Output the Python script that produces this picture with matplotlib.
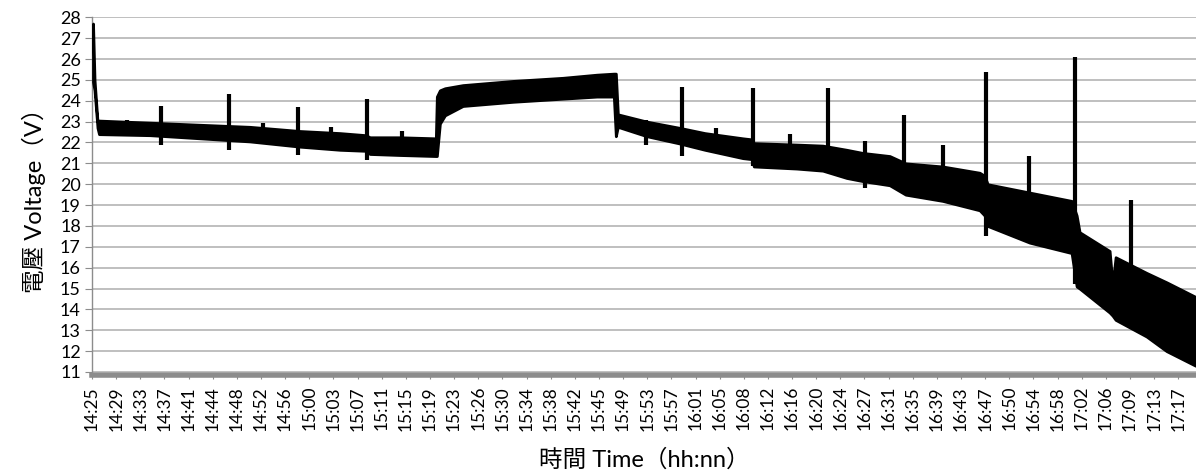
import numpy as np
import matplotlib
matplotlib.use("Agg")
import matplotlib.pyplot as plt

# time axis: minutes after 14:25
tick_labels = ["14:25", "14:29", "14:33", "14:37", "14:41", "14:44", "14:48", "14:52",
               "14:56", "15:00", "15:03", "15:07", "15:11", "15:15", "15:19", "15:23",
               "15:26", "15:30", "15:34", "15:38", "15:42", "15:45", "15:49", "15:53",
               "15:57", "16:01", "16:05", "16:08", "16:12", "16:16", "16:20", "16:24",
               "16:27", "16:31", "16:35", "16:39", "16:43", "16:47", "16:50", "16:54",
               "16:58", "17:02", "17:06", "17:09", "17:13", "17:17"]
last_tick_min = 172.0

# envelope of the noisy voltage trace (upper / lower edge)
env_t = [0.16, 0.40, 0.87, 1.11, 9.18, 17.09, 25.01, 32.92, 39.25, 43.37, 44.0,
         48.75, 54.44, 54.60, 55.08, 55.88, 58.72, 66.64, 74.55, 79.93, 82.62,
         82.94, 83.26, 87.85, 93.07, 97.03, 103.04, 104.47, 104.79, 111.58,
         115.70, 119.49, 122.02, 126.30, 128.83, 134.69, 140.54, 141.33, 141.81,
         148.46, 155.10, 155.90, 156.37, 161.12, 161.59, 162.07, 166.97, 170.14,
         174.73]
env_hi = [27.7, 25.0, 23.0, 23.05, 22.95, 22.85, 22.75, 22.55, 22.45, 22.35, 22.25,
          22.25, 22.2, 24.2, 24.5, 24.6, 24.75, 24.95, 25.1, 25.25, 25.3,
          25.3, 23.35, 23.0, 22.7, 22.45, 22.2, 22.15, 21.97, 21.9,
          21.85, 21.65, 21.5, 21.35, 21.0, 20.85, 20.55, 20.4, 20.0,
          19.6, 19.2, 18.5, 17.7, 16.8, 15.2, 16.5, 15.75, 15.3,
          14.6]
env_lo = [24.9, 24.5, 22.7, 22.4, 22.35, 22.2, 22.05, 21.8, 21.65, 21.6, 21.45,
          21.4, 21.35, 21.35, 22.9, 23.3, 23.75, 23.95, 24.1, 24.2, 24.2,
          22.3, 22.75, 22.3, 21.95, 21.65, 21.25, 21.2, 20.85, 20.75,
          20.65, 20.3, 20.15, 19.95, 19.5, 19.2, 18.75, 18.5, 18.0,
          17.2, 16.7, 15.1, 15.0, 13.85, 13.7, 13.5, 12.7, 12.0,
          11.3]

# short spikes (time, top, bottom)
spike_t = [5.48, 10.92, 21.64, 27.06, 32.65, 37.83, 43.48, 49.02, 87.79, 93.49,
           98.87, 104.66, 110.47, 116.53, 122.45, 128.56, 134.74, 141.49, 148.35,
           155.69, 164.55]
spike_top = [23.1, 23.75, 24.33, 22.95, 23.7, 22.75, 24.08, 22.53, 23.07, 24.65,
             22.69, 24.6, 22.42, 24.6, 22.05, 23.33, 21.86, 25.4, 21.33,
             26.09, 19.26]
spike_bot = [22.8, 21.86, 21.62, 22.6, 21.41, 22.4, 21.17, 22.2, 21.86, 21.33,
             22.1, 20.85, 21.4, 21.5, 19.82, 19.58, 20.5, 17.5, 19.0,
             15.2, 15.5]

yticks = list(range(11, 29))

plt.rcParams['font.family'] = ['Lato', 'Noto Sans CJK TC', 'DejaVu Sans']

fig = plt.figure(figsize=(11.96, 4.74), dpi=100)
ax = fig.add_axes([92 / 1196, 1 - 372 / 474, 1 - 92 / 1196, 354.7 / 474])

for s in ['top', 'right']:
    ax.spines[s].set_visible(False)
ax.spines['bottom'].set_position(('outward', 2))
ax.spines['left'].set_color('#8c8c8c')
ax.spines['left'].set_linewidth(1.0)
ax.spines['bottom'].set_color('#8c8c8c')
ax.spines['bottom'].set_linewidth(4)

ax.fill_between(env_t, env_lo, env_hi, color='black', lw=2, edgecolor='black', zorder=3)
ax.vlines(spike_t, spike_bot, spike_top, color='black', lw=3, zorder=3)

ax.set_ylim(11, 28)
ax.set_xlim(0, 174.8)
ax.set_yticks(yticks)
ax.grid(axis='y', color='#b4b4b4', lw=1.2, zorder=0)
ax.set_axisbelow(True)

xt = np.linspace(0, last_tick_min, len(tick_labels))
ax.set_xticks(xt)
ax.set_xticklabels(tick_labels)
ax.tick_params(axis='x', length=3, color='#8c8c8c', pad=5, labelrotation=90, labelsize=12.5)
ax.tick_params(axis='y', length=5, color='#8c8c8c', labelsize=13, pad=3)

ax.set_ylabel('電壓 Voltage（V）', fontsize=17, labelpad=10)
ax.set_xlabel('時間 Time（hh:nn）', fontsize=17, labelpad=13)

fig.savefig('out.png', dpi=100)
